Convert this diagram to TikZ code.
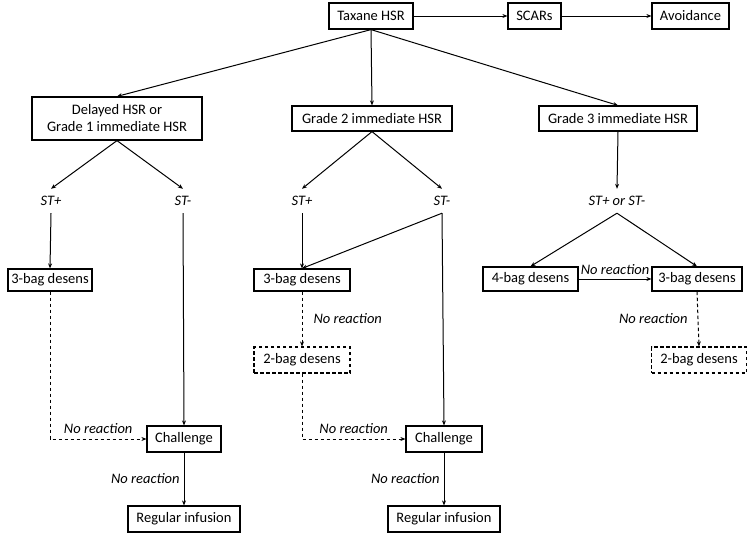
\documentclass[tikz,border=0pt]{standalone}
\usepackage{fontspec}
\setmainfont{Carlito}
\usetikzlibrary{arrows.meta}
\begin{document}
\begin{tikzpicture}[x=1pt,y=-1pt,
  font=\fontsize{14.5}{17}\selectfont,
  box/.style={draw,line width=1.2pt,inner sep=0pt,align=center},
  dbox/.style={box,dash pattern=on 3.5pt off 2.5pt},
  lab/.style={inner sep=0pt,font=\fontsize{14.5}{17}\selectfont\itshape},
  st/.style={lab,minimum height=24pt},
  arr/.style={line width=1pt,-{Stealth[length=5pt,width=4pt]}},
  darr/.style={arr,dash pattern=on 3.5pt off 2.5pt},
  ln/.style={line width=1pt}]
\useasboundingbox (0,0) rectangle (749,536);
% boxes
\node[box,minimum width=84pt,minimum height=26pt] (tax) at (371,16) {Taxane HSR};
\node[box,minimum width=53pt,minimum height=26pt] (scars) at (534.5,16) {SCARs};
\node[box,minimum width=77pt,minimum height=26pt] (avoid) at (690.5,16) {Avoidance};
\node[box,minimum width=170pt,minimum height=43pt] (del) at (117,118.5) {Delayed HSR or\\Grade 1 immediate HSR};
\node[box,minimum width=160pt,minimum height=25pt] (g2) at (372,118.5) {Grade 2 immediate HSR};
\node[box,minimum width=158pt,minimum height=25pt] (g3) at (618,118.5) {Grade 3 immediate HSR};
% ST labels
\node[st] (stp1) at (51,201) {ST+};
\node[st] (stm1) at (183,201) {ST-};
\node[st] (stp2) at (302,201) {ST+};
\node[st] (stm2) at (442,201) {ST-};
\node[st] (st3) at (617,201) {ST+ or ST-};
% desens boxes
\node[box,minimum width=84pt,minimum height=22pt] (b3a) at (50,280) {3-bag desens};
\node[box,minimum width=96pt,minimum height=22pt] (b3b) at (302,280) {3-bag desens};
\node[dbox,minimum width=96pt,minimum height=26pt] (b2b) at (302,360) {2-bag desens};
\node[box,minimum width=95pt,minimum height=24pt] (b4) at (530.5,279) {4-bag desens};
\node[box,minimum width=90pt,minimum height=24pt] (b3c) at (697,279) {3-bag desens};
\node[dbox,minimum width=95pt,minimum height=26pt] (b2c) at (699,360) {2-bag desens};
% challenge / infusion
\node[box,minimum width=74pt,minimum height=26pt] (ch1) at (184,439) {Challenge};
\node[box,minimum width=76pt,minimum height=26pt] (ch2) at (444,439) {Challenge};
\node[box,minimum width=112pt,minimum height=26pt] (reg1) at (184,519) {Regular infusion};
\node[box,minimum width=112pt,minimum height=26pt] (reg2) at (444,519) {Regular infusion};
% top row
\draw[arr] (tax) -- (scars);
\draw[arr] (scars) -- (avoid);
\draw[arr] (tax.south) -- (del.north);
\draw[arr] (tax.south) -- (g2.north);
\draw[arr] (tax.south) -- (g3.north);
% left branch
\draw[arr] (del.south) -- (stp1.north);
\draw[arr] (del.south) -- (stm1.north);
\draw[arr] (stp1.south) -- (b3a.north);
\draw[arr] (stm1.south) -- (ch1.north);
\draw[darr] (b3a.south) |- (ch1.west) node[lab,pos=0.75,above=5pt] {No reaction};
\draw[arr] (ch1.south) -- (reg1.north) node[lab,midway,left=4pt] {No reaction};
% middle branch
\draw[arr] (g2.south) -- (stp2.north);
\draw[arr] (g2.south) -- (stm2.north);
\draw[arr] (stp2.south) -- (b3b.north);
\draw[arr] (stm2.south) -- (b3b.north);
\draw[arr] (stm2.south) -- (ch2.north);
\draw[darr] (b3b.south) -- (b2b.north) node[lab,midway,right=11pt] {No reaction};
\draw[darr] (b2b.south) |- (ch2.west) node[lab,pos=0.75,above=5pt] {No reaction};
\draw[arr] (ch2.south) -- (reg2.north) node[lab,midway,left=4pt] {No reaction};
% right branch
\draw[arr] (g3.south) -- (st3.north);
\draw[arr] (st3.south) -- (b4.north);
\draw[arr] (st3.south) -- (b3c.north);
\draw[arr] (b4) -- (b3c) node[lab,midway,above=4pt] {No reaction};
\draw[darr] (b3c.south) -- (b2c.north) node[lab,midway,left=10pt] {No reaction};
\end{tikzpicture}
\end{document}
